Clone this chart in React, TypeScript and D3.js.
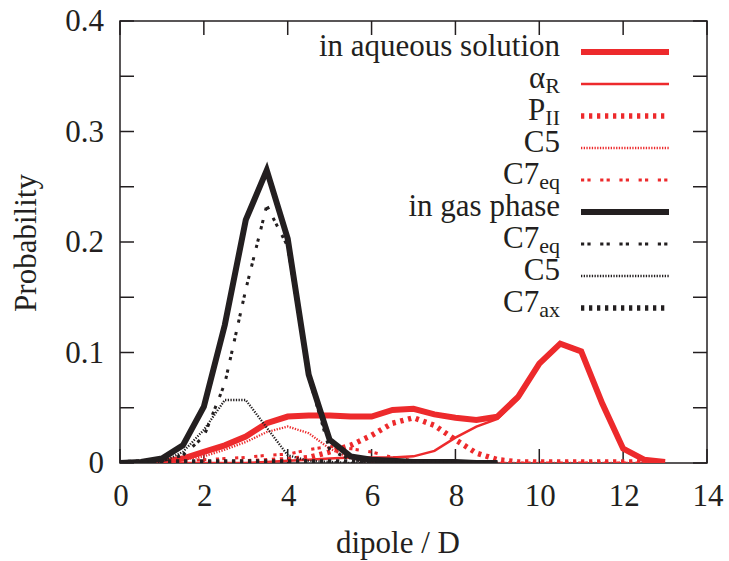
import React from 'react';
import * as d3 from 'd3';

// dipole bins (D)
const dipoleAq = [0, 0.5, 1, 1.5, 2, 2.5, 3, 3.5, 4, 4.5, 5, 5.5, 6, 6.5, 7, 7.5, 8, 8.5, 9, 9.5, 10, 10.5, 11, 11.5, 12, 12.5, 13];
const dipoleGas = [0, 0.5, 1, 1.5, 2, 2.5, 3, 3.5, 4, 4.5, 5, 5.5, 6, 6.5, 7, 7.5, 8, 8.5, 9];

// aqueous solution
const aqTotal = [0, 0, 0.001, 0.004, 0.010, 0.016, 0.024, 0.036, 0.042, 0.043, 0.043, 0.042, 0.042, 0.048, 0.049, 0.044, 0.041, 0.039, 0.042, 0.060, 0.090, 0.108, 0.101, 0.054, 0.013, 0.003, 0.001];
const aqAlphaR = [0, 0, 0, 0, 0, 0, 0, 0.001, 0.002, 0.003, 0.004, 0.005, 0.005, 0.005, 0.006, 0.011, 0.023, 0.033, 0.040, 0.058, 0.089, 0.107, 0.100, 0.053, 0.013, 0.003, 0.001];
const aqPII = [0, 0, 0, 0, 0, 0, 0.001, 0.002, 0.003, 0.005, 0.010, 0.016, 0.025, 0.036, 0.041, 0.034, 0.021, 0.009, 0.003, 0.001, 0.001, 0.001, 0.001, 0.001, 0.001, 0.001, 0.001];
const aqC5 = [0, 0, 0.001, 0.003, 0.006, 0.012, 0.019, 0.028, 0.033, 0.027, 0.013, 0.004, 0.001, 0, 0, 0, 0, 0, 0, 0, 0, 0, 0, 0, 0, 0, 0];
const aqC7eq = [0, 0, 0.001, 0.002, 0.003, 0.004, 0.005, 0.007, 0.008, 0.012, 0.015, 0.013, 0.010, 0.005, 0.002, 0.001, 0, 0, 0, 0, 0, 0, 0, 0, 0, 0, 0];

// gas phase
const gasTotal = [0, 0.001, 0.004, 0.016, 0.051, 0.125, 0.220, 0.265, 0.203, 0.080, 0.021, 0.006, 0.003, 0.002, 0.001, 0.001, 0.001, 0, 0];
const gasC7eq = [0, 0, 0.002, 0.007, 0.024, 0.072, 0.157, 0.233, 0.196, 0.078, 0.012, 0.003, 0.001, 0.001, 0, 0, 0, 0, 0];
const gasC5 = [0, 0, 0.001, 0.010, 0.030, 0.057, 0.057, 0.032, 0.007, 0.002, 0.001, 0, 0, 0, 0, 0, 0, 0, 0];
const gasC7ax = [0, 0.001, 0.001, 0.001, 0.001, 0.001, 0.001, 0.001, 0.001, 0.001, 0.001, 0.001, 0.001, 0, 0, 0, 0, 0, 0];

const xTicks = [0, 2, 4, 6, 8, 10, 12, 14];
const yTicks = [0, 0.05, 0.1, 0.15, 0.2, 0.25, 0.3, 0.35, 0.4];
const yLabels = [0, 0.1, 0.2, 0.3, 0.4];

const RED = '#ed2a2c';
const BLACK = '#231f20';
const FONT = "'Liberation Serif', 'Times New Roman', serif";

const styles = {
  thick: { w: 6, dash: null },
  thin: { w: 2.5, dash: null },
  dashed: { w: 5.5, dash: '3.3 4.7' },
  dotted: { w: 2.3, dash: '1.3 1.4' },
  pairs: { w: 3, dash: '3.2 3.2 3.2 9.6' },
};

const series = [
  { label: 'in aqueous solution', sub: '', xs: dipoleAq, ys: aqTotal, color: RED, st: styles.thick },
  { label: 'α', sub: 'R', xs: dipoleAq, ys: aqAlphaR, color: RED, st: styles.thin },
  { label: 'P', sub: 'II', xs: dipoleAq, ys: aqPII, color: RED, st: styles.dashed },
  { label: 'C5', sub: '', xs: dipoleAq, ys: aqC5, color: RED, st: styles.dotted },
  { label: 'C7', sub: 'eq', xs: dipoleAq, ys: aqC7eq, color: RED, st: styles.pairs },
  { label: 'in gas phase', sub: '', xs: dipoleGas, ys: gasTotal, color: BLACK, st: styles.thick },
  { label: 'C7', sub: 'eq', xs: dipoleGas, ys: gasC7eq, color: BLACK, st: styles.pairs },
  { label: 'C5', sub: '', xs: dipoleGas, ys: gasC5, color: BLACK, st: styles.dotted },
  { label: 'C7', sub: 'ax', xs: dipoleGas, ys: gasC7ax, color: BLACK, st: styles.dashed },
];

const W = 729;
const H = 561;
const left = 120, right = 707, top = 21, bottom = 463;

export default function App() {
  const x = d3.scaleLinear().domain([0, 14]).range([left, right]);
  const y = d3.scaleLinear().domain([0, 0.4]).range([bottom, top]);
  const line = d3.line<[number, number]>().x(d => x(d[0])).y(d => y(d[1]));
  const tick = 14;

  return (
    <svg width={W} height={H} style={{ position: 'absolute', left: 0, top: 0, background: '#fff', fontFamily: FONT }}>
      <defs>
        <clipPath id="plot">
          <rect x={left} y={top - 5} width={right - left} height={bottom - top + 5} />
        </clipPath>
      </defs>

      {/* frame and ticks */}
      <g stroke={BLACK} strokeWidth={1.5} fill="none">
        <rect x={left} y={top} width={right - left} height={bottom - top} />
        {xTicks.map(t => (
          <g key={'x' + t}>
            <line x1={x(t)} x2={x(t)} y1={bottom} y2={bottom - tick} />
            <line x1={x(t)} x2={x(t)} y1={top} y2={top + tick} />
          </g>
        ))}
        {yTicks.map(t => (
          <g key={'y' + t}>
            <line x1={left} x2={left + tick} y1={y(t)} y2={y(t)} />
            <line x1={right} x2={right - tick} y1={y(t)} y2={y(t)} />
          </g>
        ))}
      </g>

      <g fill={BLACK} style={{ fontSize: 31 }}>
        {xTicks.map(t => (
          <text key={'xl' + t} x={x(t) + 1} y={506} textAnchor="middle">{t}</text>
        ))}
        {yLabels.map(t => (
          <text key={'yl' + t} x={104} y={y(t) + 10} textAnchor="end">{t === 0 ? '0' : t.toFixed(1)}</text>
        ))}
        <text x={398} y={553} textAnchor="middle">dipole / D</text>
        <text transform={`translate(36,243) rotate(-90)`} textAnchor="middle">Probability</text>
      </g>

      {/* data lines */}
      <g clipPath="url(#plot)" fill="none">
        {series.map((s, i) => (
          <path key={'s' + i}
            d={line(s.xs.map((v, j) => [v, s.ys[j]] as [number, number])) || ''}
            stroke={s.color} strokeWidth={s.st.w}
            strokeDasharray={s.st.dash || undefined}
            strokeLinejoin="miter" strokeMiterlimit={10} />
        ))}
      </g>

      {/* legend */}
      <g fill={BLACK} style={{ fontSize: 31 }}>
        {series.map((s, i) => {
          const ly = 52 + i * 32;
          return (
            <g key={'lg' + i}>
              <text x={560} y={ly + 4} textAnchor="end">
                {s.label}
                {s.sub && <tspan style={{ fontSize: 22 }} dy={5}>{s.sub}</tspan>}
              </text>
              <line x1={581} x2={669} y1={ly} y2={ly} stroke={s.color}
                strokeWidth={s.st.w} strokeDasharray={s.st.dash || undefined} />
            </g>
          );
        })}
      </g>
    </svg>
  );
}
